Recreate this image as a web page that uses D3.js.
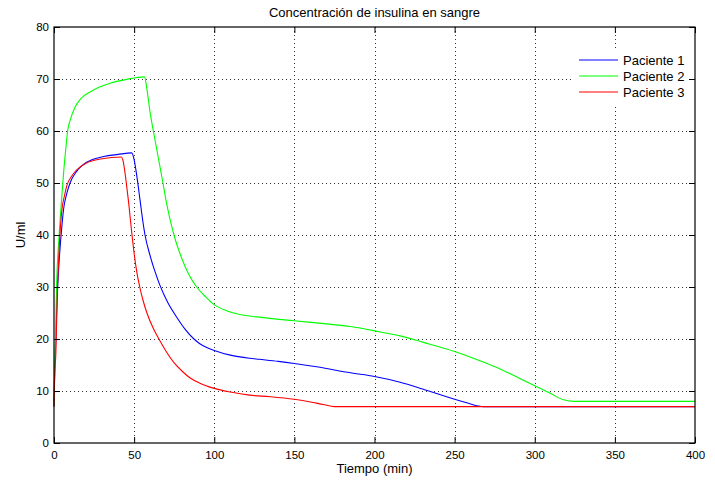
<!DOCTYPE html>
<html>
<head>
<meta charset="utf-8">
<script src="https://cdn.jsdelivr.net/npm/d3@7"></script>
<style>
  body { margin: 0; background: #fff; }
  svg text { font-family: "Liberation Sans", Arial, sans-serif; fill: #000; }
</style>
</head>
<body>
<svg id="chart" width="715" height="482"></svg>
<script>
// series: [time (min), U/ml]
let paciente1 = [[0,7],[0.5,14],[1,19],[2,28],[3,34],[5,42],[6,45],[8,48],[10,50],[14,52.2],[18,53.5],[24,54.5],[31,55.1],[40,55.5],[48.5,55.8],
    [50,54.5],[51.6,51.5],[53.7,46.7],[55.5,42.5],[56.8,40],[60,36],[63,33],[66,30.4],[71,27],[77,24],[82,21.8],[87,20.1],[91,19.1],[95,18.4],[100,17.8],
    [110,16.9],[122,16.3],[128,16.1],[140,15.7],[150,15.3],[165,14.6],[185,13.5],[200,12.8],[216,11.7],[230,10.4],[250,8.4],[260,7.5],[265,7.1],[268,7],[400,7]];
let paciente2 = [[0,7],[0.5,15],[1,21],[1.7,31],[3,39],[4.8,47],[6,52],[7.5,57],[8.5,60],[10,62],[13,64.5],[17,66.3],[22.5,67.5],[28,68.4],[35,69.2],
    [45,69.9],[56.5,70.4],[58,68],[60,63.5],[62,60],[65,55],[68,50],[70,46.5],[72.4,43],[76,38.8],[80,35.3],[84,32.5],[89,30],[95,28],[100,26.6],[108,25.4],
    [116,24.7],[128,24.2],[150,23.5],[170,22.9],[185,22.4],[203,21.4],[216,20.6],[230,19.4],[250,17.6],[265,15.9],[280,14],[290,12.5],[300,11],[310,9.5],
    [318,8.3],[325,8],[400,8]];
let paciente3 = [[0,7],[0.3,12],[1.2,17.6],[2,28],[3,36],[4,41.5],[5,45],[6.5,47.5],[8,49.5],[11,51.3],[14,52.5],[20,53.8],[29,54.6],[36,54.9],[42,55],
    [43,54.4],[44.3,52],[45.5,49],[46.4,46.7],[48.5,40.5],[50,36.5],[51.6,33],[53.5,30],[55.5,27.5],[58,25],[62,22],[66,19.7],[70,17.6],[75,15.4],[80,13.8],
    [85,12.5],[91,11.5],[100,10.5],[110,9.8],[122,9.2],[135,8.9],[150,8.4],[160,7.9],[168,7.4],[175,7],[400,7]];

let seriesNames = ["Paciente 1", "Paciente 2", "Paciente 3"];
let seriesColors = ["#0000ff", "#00ff00", "#ff0000"];
let xTicks = [0, 50, 100, 150, 200, 250, 300, 350, 400];
let yTicks = [0, 10, 20, 30, 40, 50, 60, 70, 80];

let svg = d3.select("#chart");
let plotLeft = 54, plotRight = 695, plotTop = 27, plotBottom = 443;

let xScale = d3.scaleLinear().domain([0, 400]).range([plotLeft, plotRight]);
let yScale = d3.scaleLinear().domain([0, 80]).range([plotBottom, plotTop]);

// dotted grid
let grid = svg.append("g").attr("stroke", "#333").attr("stroke-width", 1).attr("stroke-dasharray", "1,3");
grid.selectAll(".gx").data(xTicks.slice(1, -1)).enter().append("line")
    .attr("x1", d => Math.round(xScale(d)) + 0.5).attr("x2", d => Math.round(xScale(d)) + 0.5)
    .attr("y1", plotTop).attr("y2", plotBottom);
grid.selectAll(".gy").data(yTicks.slice(1, -1)).enter().append("line")
    .attr("y1", d => Math.round(yScale(d)) + 0.5).attr("y2", d => Math.round(yScale(d)) + 0.5)
    .attr("x1", plotLeft).attr("x2", plotRight);

// the curves
let line = d3.line().x(d => xScale(d[0])).y(d => yScale(d[1])).curve(d3.curveMonotoneX);
[paciente1, paciente2, paciente3].forEach(function (s, i) {
    svg.append("path").datum(s)
        .attr("d", line)
        .attr("fill", "none")
        .attr("stroke", seriesColors[i])
        .attr("stroke-width", 1.1);
});

// axes, ticks pointing inward on all four sides (matlab box)
let tickLen = 6;
let xAxis = d3.axisBottom(xScale).tickValues(xTicks).tickSize(-tickLen).tickPadding(8);
let yAxis = d3.axisLeft(yScale).tickValues(yTicks).tickSize(-tickLen).tickPadding(5);
svg.append("g").attr("transform", "translate(0," + plotBottom + ")").call(xAxis);
svg.append("g").attr("transform", "translate(" + plotLeft + ",0)").call(yAxis);
svg.append("g").attr("transform", "translate(0," + plotTop + ")")
    .call(d3.axisTop(xScale).tickValues(xTicks).tickSize(-tickLen).tickFormat(""));
svg.append("g").attr("transform", "translate(" + plotRight + ",0)")
    .call(d3.axisRight(yScale).tickValues(yTicks).tickSize(-tickLen).tickFormat(""));
svg.selectAll(".domain").remove();
svg.selectAll(".tick line").attr("stroke", "#000");
svg.selectAll(".tick text").attr("font-size", 11.5);

svg.append("rect").attr("x", plotLeft).attr("y", plotTop)
    .attr("width", plotRight - plotLeft).attr("height", plotBottom - plotTop)
    .attr("fill", "none").attr("stroke", "#000").attr("stroke-width", 1.2);

// legend
let legend = svg.append("g");
legend.append("rect").attr("x", 571).attr("y", 48).attr("width", 118).attr("height", 56).attr("fill", "#fff");
seriesNames.forEach(function (name, i) {
    let y = 60 + i * 16;
    legend.append("line").attr("x1", 579).attr("x2", 618).attr("y1", y).attr("y2", y)
        .attr("stroke", seriesColors[i]).attr("stroke-width", 1.1);
    legend.append("text").attr("x", 623).attr("y", y + 4.5).attr("font-size", 13).text(name);
});

// title and labels
svg.append("text").attr("x", (plotLeft + plotRight) / 2).attr("y", 17).attr("text-anchor", "middle")
    .attr("font-size", 13).text("Concentración de insulina en sangre");
svg.append("text").attr("x", (plotLeft + plotRight) / 2).attr("y", 473).attr("text-anchor", "middle")
    .attr("font-size", 13).text("Tiempo (min)");
svg.append("text").attr("transform", "translate(25," + (plotTop + plotBottom) / 2 + ") rotate(-90)")
    .attr("text-anchor", "middle").attr("font-size", 13).text("U/ml");
</script>
</body>
</html>
